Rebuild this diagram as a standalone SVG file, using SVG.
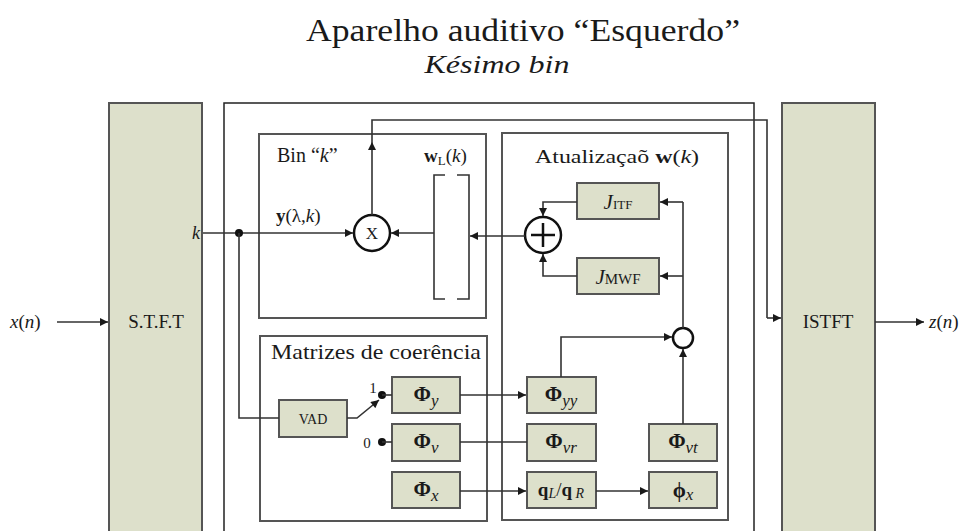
<svg xmlns="http://www.w3.org/2000/svg" width="969" height="531" viewBox="0 0 969 531">
<defs>
<marker id="ah" viewBox="0 0 10 10" refX="10" refY="5" markerWidth="9" markerHeight="8" markerUnits="userSpaceOnUse" orient="auto">
<path d="M0,0 L10,5 L0,10 z" fill="#1a1a1a"/>
</marker>
</defs>
<style>
.blk{fill:#dde0cb;stroke:#555;stroke-width:2}
.frame{fill:none;stroke:#555;stroke-width:2}
.outer{fill:#fff;stroke:#222;stroke-width:1.5}
.ln{fill:none;stroke:#333;stroke-width:1.6}
.ar{fill:none;stroke:#333;stroke-width:1.6;marker-end:url(#ah)}
.op{fill:#fff;stroke:#111;stroke-width:2.5}
.b{font-weight:bold}
.i{font-style:italic}
.phi{font-size:21px;text-anchor:middle}
</style>
<rect width="969" height="531" fill="#fff"/>
<g font-family="Liberation Serif, Tinos, Times New Roman, Times, serif" fill="#1a1a1a">
<g id="title">
<text x="523" y="41" font-size="32" text-anchor="middle" textLength="434" lengthAdjust="spacingAndGlyphs">Aparelho auditivo “Esquerdo”</text>
<text x="497" y="73" font-size="25" class="i" text-anchor="middle" textLength="145" lengthAdjust="spacingAndGlyphs">Késimo bin</text>
</g>
<g id="outer"><rect class="outer" x="224" y="103" width="530" height="450"/></g>
<g id="stft"><rect class="blk" x="109" y="103" width="93" height="450"/><text x="156" y="328" font-size="19" text-anchor="middle">S.T.F.T</text></g>
<g id="istft"><rect class="blk" x="782" y="103" width="93" height="450"/><text x="828" y="328" font-size="19" text-anchor="middle">ISTFT</text></g>
<g id="xin"><text x="10" y="328" font-size="19" class="i">x<tspan font-style="normal">(</tspan>n<tspan font-style="normal">)</tspan></text></g>
<g id="zout"><text x="929" y="328" font-size="19" class="i">z<tspan font-style="normal">(</tspan>n<tspan font-style="normal">)</tspan></text></g>
<g id="bin"><rect class="frame" x="259" y="134" width="227" height="184"/>
<text x="277" y="162" font-size="20">Bin “<tspan class="i">k</tspan>”</text>
<text x="196" y="239" font-size="18" class="i" text-anchor="middle">k</text>
<text x="276" y="222" font-size="19"><tspan class="b">y</tspan>(λ,<tspan class="i">k</tspan>)</text>
</g>
<g id="mult"><circle class="op" cx="372" cy="233" r="18"/><text x="372" y="239" font-size="17" text-anchor="middle">X</text></g>
<g id="wL">
<path class="ln" d="M445,175 H434 V299 H445 M457,175 H469 V299 H457" stroke-width="2"/>
<text x="424" y="162" font-size="19"><tspan class="b">w</tspan><tspan font-size="13" dy="3">L</tspan><tspan dy="-3">(</tspan><tspan class="i">k</tspan>)</text>
</g>
<g id="atual"><rect class="frame" x="502" y="133" width="226" height="387"/>
<text x="535" y="163" font-size="19" textLength="164" lengthAdjust="spacingAndGlyphs">Atualizaçaõ <tspan class="b">w</tspan>(<tspan class="i">k</tspan>)</text>
</g>
<g id="sum"><circle class="op" cx="543" cy="235" r="18"/><path d="M531,235 H555 M543,223 V247" stroke="#111" stroke-width="2.5"/></g>
<g id="jitf"><rect class="blk" x="577" y="183" width="82" height="36"/><text x="618" y="209" font-size="21" text-anchor="middle"><tspan class="i">J</tspan><tspan font-size="13">ITF</tspan></text></g>
<g id="jmwf"><rect class="blk" x="577" y="258" width="82" height="36"/><text x="618" y="284" font-size="21" text-anchor="middle"><tspan class="i">J</tspan><tspan font-size="15">MWF</tspan></text></g>
<g id="junction"><circle class="op" cx="683" cy="338" r="10"/></g>
<g id="matrizes"><rect class="frame" x="260" y="336" width="227" height="185"/>
<text x="271" y="359" font-size="21" textLength="210" lengthAdjust="spacingAndGlyphs">Matrizes de coerência</text>
<text x="373" y="393" font-size="15" text-anchor="middle">1</text>
<text x="367" y="448" font-size="15" text-anchor="middle">0</text>
</g>
<g id="vad"><rect class="blk" x="279" y="400" width="68" height="37"/><text x="313" y="424" font-size="14" text-anchor="middle">VAD</text></g>
<g id="phiy"><rect class="blk" x="392" y="377" width="68" height="36"/><text class="phi" x="426" y="401"><tspan class="b">Φ</tspan><tspan class="i" font-size="17" dy="5">y</tspan></text></g>
<g id="phiv"><rect class="blk" x="392" y="424" width="68" height="37"/><text class="phi" x="426" y="448"><tspan class="b">Φ</tspan><tspan class="i" font-size="17" dy="5">v</tspan></text></g>
<g id="phix"><rect class="blk" x="392" y="472" width="68" height="36"/><text class="phi" x="426" y="496"><tspan class="b">Φ</tspan><tspan class="i" font-size="17" dy="5">x</tspan></text></g>
<g id="phiyy"><rect class="blk" x="527" y="377" width="69" height="36"/><text class="phi" x="561" y="401"><tspan class="b">Φ</tspan><tspan class="i" font-size="17" dy="5">yy</tspan></text></g>
<g id="phivr"><rect class="blk" x="527" y="424" width="69" height="37"/><text class="phi" x="561" y="448"><tspan class="b">Φ</tspan><tspan class="i" font-size="17" dy="5">vr</tspan></text></g>
<g id="qlqr"><rect class="blk" x="527" y="472" width="69" height="36"/><text x="561" y="496" font-size="19" text-anchor="middle"><tspan class="b">q</tspan><tspan class="i" font-size="14" dy="2">L</tspan><tspan dy="-2">/</tspan><tspan class="b">q</tspan><tspan class="i" font-size="14" dy="2"> R</tspan></text></g>
<g id="phivt"><rect class="blk" x="649" y="424" width="68" height="37"/><text class="phi" x="683" y="448"><tspan class="b">Φ</tspan><tspan class="i" font-size="17" dy="5">vt</tspan></text></g>
<g id="phix2"><rect class="blk" x="649" y="472" width="68" height="36"/><text x="683" y="497" font-size="21" text-anchor="middle"><tspan class="b">ϕ</tspan><tspan class="i" font-size="17" dy="3">x</tspan></text></g>
</g>
<g id="connectors">
<path class="ar" d="M57,322 H108"/>
<path class="ar" d="M875,322 H924"/>
<path class="ar" d="M203,233 H353"/>
<circle cx="239" cy="233" r="4" fill="#111"/>
<path class="ln" d="M239,233 V418 H279"/>
<path class="ar" d="M434,233 H391"/>
<path class="ar" d="M525,236 H470"/>
<path class="ar" d="M372,215 V142"/>
<path class="ln" d="M372,142 V120 H767 V318"/>
<path class="ar" d="M767,318 H781"/>
<path class="ar" d="M577,202 H543 V216"/>
<path class="ar" d="M577,276 H543 V254"/>
<path class="ln" d="M683,328 V202"/>
<path class="ar" d="M683,202 H660"/>
<path class="ar" d="M683,276 H660"/>
<path class="ar" d="M561,377 V337 H672"/>
<path class="ar" d="M683,424 V349"/>
<path class="ar" d="M596,491 H648"/>
<path class="ar" d="M460,395 H526"/>
<path class="ln" d="M460,442 H527"/>
<path class="ar" d="M460,491 H526"/>
<path class="ar" d="M347,418 H357 L379,400"/>
<circle cx="382" cy="395" r="4" fill="#111"/>
<path class="ln" d="M382,395 H392"/>
<circle cx="382" cy="442" r="4" fill="#111"/>
<path class="ln" d="M382,442 H392"/>
</g>
</svg>
